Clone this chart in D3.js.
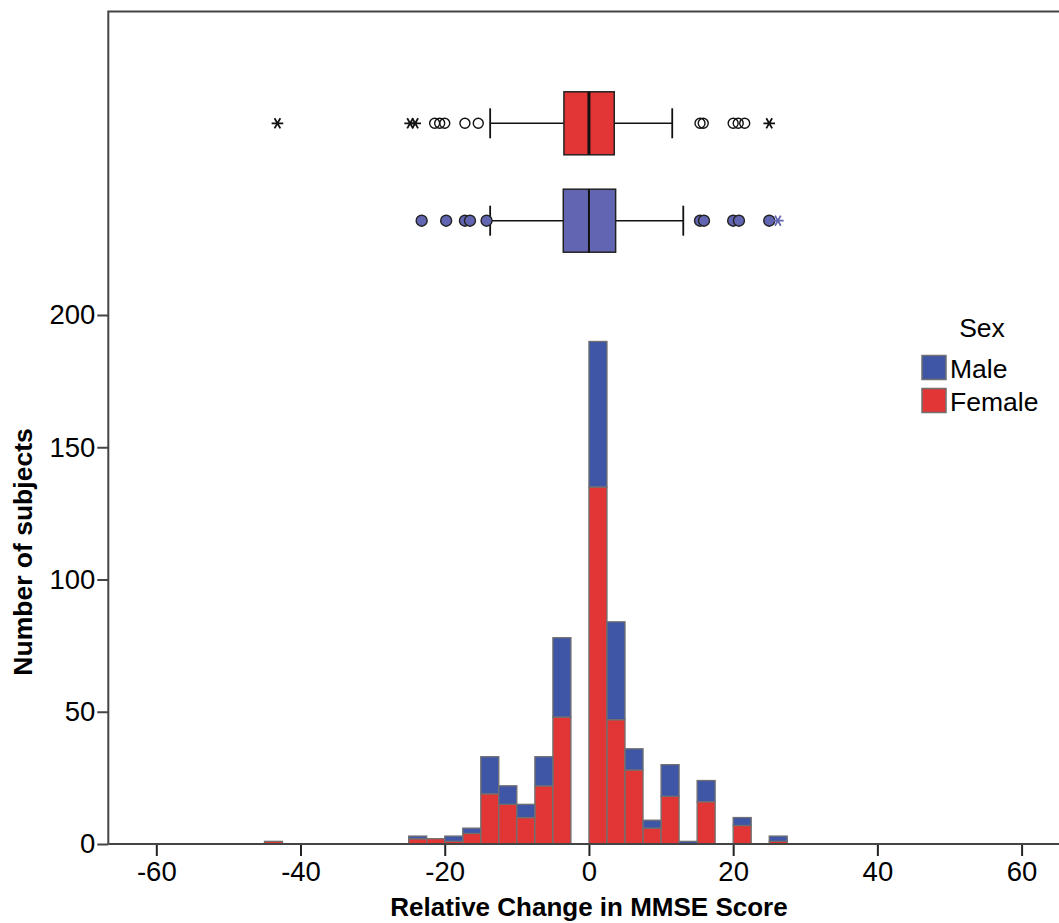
<!DOCTYPE html>
<html><head><meta charset="utf-8">
<script src="https://cdn.jsdelivr.net/npm/d3@7"></script>
<style>
html,body{margin:0;padding:0;background:#fff;}
svg{display:block;font-family:"Liberation Sans",Arial,sans-serif;}
</style></head>
<body>
<svg id="chart" width="1059" height="923"></svg>
<script>
// ---- data ----
const binStarts = [-45, -25, -22.5, -20, -17.5, -15, -12.5, -10, -7.5, -5, 0, 2.5, 5, 7.5, 10, 12.5, 15, 20, 25];
const binWidth = 2.5;
const femaleCounts = [1, 2, 2, 1, 4, 19, 15, 10, 22, 48, 135, 47, 28, 6, 18, 0, 16, 7, 1];
const maleCounts   = [0, 1, 0, 2, 2, 14, 7, 5, 11, 30, 55, 37, 8, 3, 12, 1, 8, 3, 2];
const seriesNames = ["Male", "Female"];
const xTicks = [-60, -40, -20, 0, 20, 40, 60];
const yTicks = [0, 50, 100, 150, 200];

// box plot summaries: [whiskerLow, Q1, median, Q3, whiskerHigh]
const femaleBox = [-13.7, -3.47, 0.0, 3.51, 11.55];
const femaleOutliers = [-21.4, -20.7, -20.0, -17.2, -15.35, 15.4, 15.85, 20.0, 20.7, 21.6];
const femaleExtremes = [-43.2, -24.8, -24.1, 25.0];
const maleBox = [-13.7, -3.56, 0.0, 3.7, 13.08];
const maleOutliers = [-23.2, -19.8, -17.2, -16.5, -14.2, 15.4, 15.95, 20.0, 20.8, 25.0];
const maleExtremes = [26.2];

// ---- drawing ----
const svg = d3.select("#chart");
const colors = {Male: "#3F55A5", Female: "#E23636"};
const boxColors = {Male: "#6265B1", Female: "#E23636"};
const FS = 27.5;

const x = d3.scaleLinear().domain([-60, 60]).range([156.3, 1021.6]);
const y = d3.scaleLinear().domain([0, 200]).range([844, 315]);
const axisLeftX = 108.3;

// frame lines (top + left)
svg.append("path")
  .attr("d", `M${axisLeftX},844 L${axisLeftX},11.5 L1060,11.5`)
  .attr("fill", "none").attr("stroke", "#444").attr("stroke-width", 2);

// bars
const bins = binStarts.map((s, i) => ({start: s, Female: femaleCounts[i], Male: maleCounts[i]}));
const stack = d3.stack().keys(["Female", "Male"])(bins);
const g = svg.append("g");
stack.forEach(layer => {
  g.selectAll(null).data(layer.filter(d => d[1] > d[0])).enter().append("rect")
    .attr("x", d => x(d.data.start))
    .attr("width", d => x(d.data.start + binWidth) - x(d.data.start))
    .attr("y", d => y(d[1]))
    .attr("height", d => y(d[0]) - y(d[1]))
    .attr("fill", colors[layer.key])
    .attr("stroke", "#707070").attr("stroke-width", 1.3);
});

// x axis
const xAxis = svg.append("g").attr("transform", "translate(0,844)")
  .call(d3.axisBottom(x).tickValues(xTicks).tickSize(12).tickPadding(5).tickFormat(d3.format("d")));
xAxis.select(".domain").remove();
xAxis.append("line").attr("x1", axisLeftX).attr("x2", 1060).attr("y1", 0).attr("y2", 0)
  .attr("stroke", "#444").attr("stroke-width", 2);
xAxis.selectAll(".tick line").attr("stroke", "#222").attr("stroke-width", 2);
xAxis.selectAll(".tick text").attr("font-size", FS).attr("fill", "#000")
  .attr("font-family", "'Liberation Sans',Arial,sans-serif").text(d => d < 0 ? "-" + Math.abs(d) : d);

// y axis
const yAxis = svg.append("g").attr("transform", `translate(${axisLeftX},0)`)
  .call(d3.axisLeft(y).tickValues(yTicks).tickSize(11).tickPadding(2));
yAxis.select(".domain").remove();
yAxis.selectAll(".tick line").attr("stroke", "#444").attr("stroke-width", 2);
yAxis.selectAll(".tick text").attr("font-size", FS).attr("fill", "#000")
  .attr("font-family", "'Liberation Sans',Arial,sans-serif");

// axis titles
svg.append("text").attr("x", 589).attr("y", 916).attr("text-anchor", "middle")
  .attr("font-size", 26).attr("font-weight", "bold").text("Relative Change in MMSE Score");
svg.append("text").attr("transform", "translate(32,552) rotate(-90)").attr("text-anchor", "middle")
  .attr("font-size", 26.5).attr("font-weight", "bold").text("Number of subjects");

// box plots
function drawBox(stats, outliers, extremes, cy, key) {
  const bg = svg.append("g");
  const [wl, q1, med, q3, wh] = stats;
  const half = 31.5, cap = 15;
  bg.append("line").attr("x1", x(wl)).attr("x2", x(q1)).attr("y1", cy).attr("y2", cy).attr("stroke", "#111").attr("stroke-width", 1.5);
  bg.append("line").attr("x1", x(q3)).attr("x2", x(wh)).attr("y1", cy).attr("y2", cy).attr("stroke", "#111").attr("stroke-width", 1.5);
  [wl, wh].forEach(v => bg.append("line").attr("x1", x(v)).attr("x2", x(v)).attr("y1", cy - cap).attr("y2", cy + cap).attr("stroke", "#111").attr("stroke-width", 1.8));
  bg.append("rect").attr("x", x(q1)).attr("width", x(q3) - x(q1)).attr("y", cy - half).attr("height", 2 * half)
    .attr("fill", boxColors[key]).attr("stroke", "#222").attr("stroke-width", 1.5);
  bg.append("line").attr("x1", x(med)).attr("x2", x(med)).attr("y1", cy - half).attr("y2", cy + half)
    .attr("stroke", "#111").attr("stroke-width", key === "Female" ? 3 : 2);
  bg.selectAll(null).data(outliers).enter().append("circle")
    .attr("cx", d => x(d)).attr("cy", cy).attr("r", key === "Female" ? 5 : 5.5)
    .attr("fill", key === "Female" ? "none" : boxColors[key])
    .attr("stroke", key === "Female" ? "#111" : "#222").attr("stroke-width", 1.4);
  const star = d3.symbol().type(d3.symbolAsterisk).size(95);
  bg.selectAll(null).data(extremes).enter().append("path")
    .attr("d", star).attr("transform", d => `translate(${x(d)},${cy}) rotate(90)`)
    .attr("fill", "none").attr("stroke", key === "Female" ? "#111" : boxColors[key]).attr("stroke-width", 1.8);
}
drawBox(femaleBox, femaleOutliers, femaleExtremes, 123.3, "Female");
drawBox(maleBox, maleOutliers, maleExtremes, 220.7, "Male");

// legend
const lg = svg.append("g");
lg.append("text").attr("x", 982).attr("y", 337).attr("text-anchor", "middle").attr("font-size", 26.5).text("Sex");
seriesNames.forEach((name, i) => {
  const yy = 355.5 + i * 33;
  lg.append("rect").attr("x", 922).attr("y", yy).attr("width", 24).attr("height", 24)
    .attr("fill", colors[name]).attr("stroke", "#707070").attr("stroke-width", 1.5);
  lg.append("text").attr("x", 950).attr("y", yy + 22.5).attr("font-size", 26.5).text(name);
});
</script>
</body></html>
